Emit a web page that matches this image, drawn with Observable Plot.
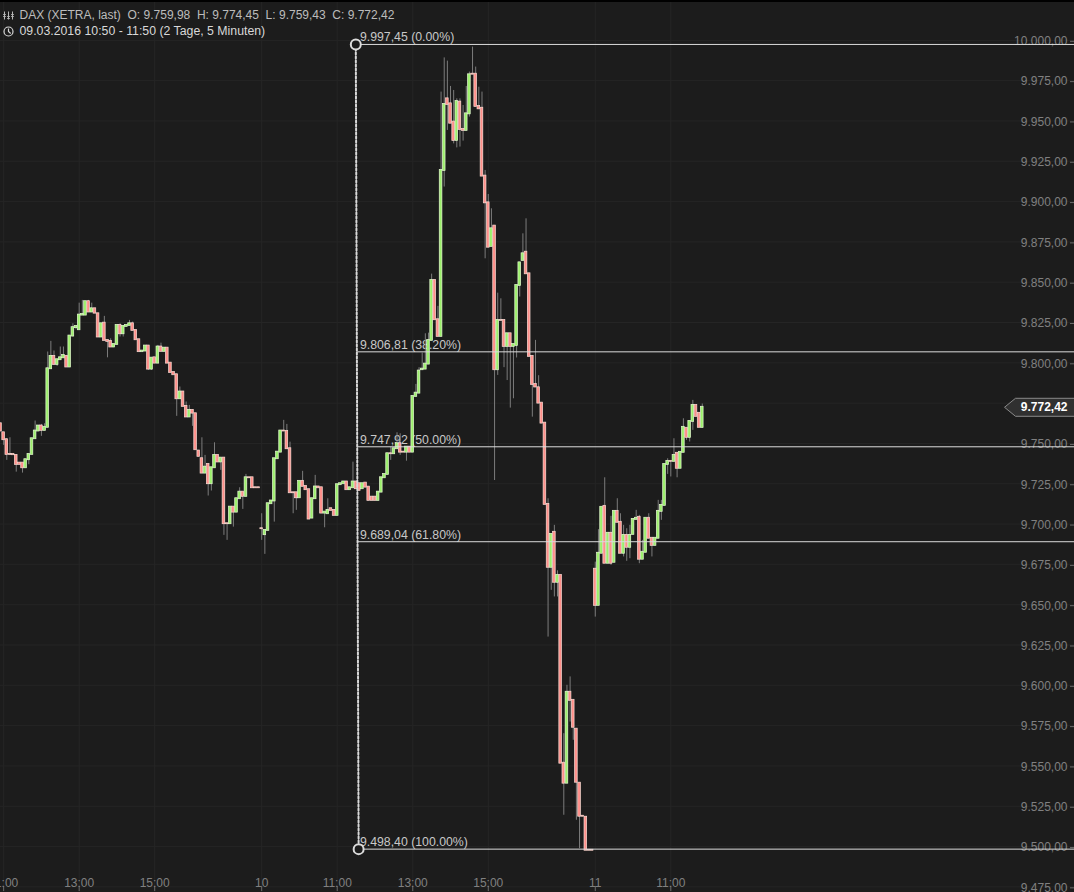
<!DOCTYPE html>
<html><head><meta charset="utf-8">
<script src="https://cdn.jsdelivr.net/npm/d3@7"></script>
<script src="https://cdn.jsdelivr.net/npm/@observablehq/plot@0.6"></script>
<style>html,body{margin:0;padding:0;background:#1c1c1c;overflow:hidden}svg{display:block}</style>
</head><body><div id="c"></div>
<script>
const opens = [
9762.2,9756.6,9752.3,9743.2,9743.2,9742.6,9737.8,9737.8,9734.9,9739.9,9743.2,9752.9,9757.7,9760.8,9758.1,9760.0,9796.3,9804.0,9799.0,9801.9,
9803.1,9804.0,9797.4,9816.6,9821.8,9820.5,9829.6,9829.6,9837.9,9831.5,9833.5,9830.4,9816.0,9824.6,9813.9,9813.3,9809.8,9811.4,9823.2,9818.0,
9822.6,9823.2,9824.2,9820.1,9814.3,9806.9,9807.3,9810.4,9796.1,9803.1,9799.8,9809.8,9807.1,9809.1,9799.8,9794.0,9792.6,9777.7,9781.9,9773.0,
9766.4,9770.5,9768.4,9745.3,9740.5,9731.6,9737.0,9725.0,9734.9,9742.6,9738.5,9740.9,9700.2,9700.2,9710.5,9707.4,9715.7,9719.8,9717.2,9728.7,
9728.7,9722.5,9722.5,9697.1,9693.4,9696.1,9712.6,9714.3,9740.5,9744.6,9757.7,9757.5,9746.7,9719.4,9719.4,9716.3,9726.5,9723.4,9721.3,9703.7,
9715.7,9723.0,9722.5,9706.8,9706.4,9709.5,9708.5,9705.4,9724.4,9725.0,9726.1,9721.3,9722.5,9726.1,
9725.0,9721.9,9725.4,9722.9,9716.7,9716.7,9714.7,9719.8,9728.7,9730.8,9743.6,9743.6,9746.7,9749.8,9744.6,9744.6,9747.7,9744.6,9779.2,9781.2,
9795.7,9796.1,9799.2,9813.9,9851.1,9826.7,9816.4,9919.3,9963.7,9960.6,9949.3,9937.9,9961.7,9944.7,9944.1,9954.4,9979.0,9979.0,9959.0,9957.9,
9915.8,9899.2,9872.2,9884.8,9795.7,9826.3,9826.3,9810.2,9818.0,9810.2,9810.8,9848.0,9863.5,9868.6,9855.2,9804.0,9786.6,9784.5,9775.0,9762.6,
9712.2,9673.2,9694.9,9663.9,9668.2,9551.7,9539.3,9595.7,9590.7,9572.8,9539.3,9518.8,9518.2,9497.7,9497.7,
9672.0,9649.6,9681.9,9711.0,9675.7,9694.3,9676.3,9707.9,9701.1,9681.9,9693.0,9685.6,9693.6,9702.9,9704.2,9678.2,9682.5,9703.6,9691.2,9686.8,
9691.2,9707.9,9711.6,9737.0,9738.9,9738.9,9743.9,9734.6,9744.5,9759.4,9753.8,9763.7,9773.6,9768.7,9759.98
];
const closes = [
9757.7,9752.3,9743.2,9743.2,9743.0,9737.0,9737.0,9734.9,9739.9,9743.2,9752.9,9757.7,9760.8,9758.1,9760.0,9796.3,9804.0,9799.0,9801.9,9803.1,
9804.6,9797.4,9816.6,9821.8,9822.6,9829.6,9830.0,9837.9,9831.5,9833.5,9830.8,9816.0,9824.2,9813.9,9813.3,9809.8,9811.4,9823.2,9818.0,9822.6,
9823.2,9824.2,9820.1,9814.3,9806.9,9807.3,9810.4,9796.1,9802.9,9799.8,9809.8,9807.1,9809.1,9799.8,9794.0,9792.6,9777.7,9781.9,9773.0,9766.4,
9770.5,9768.8,9746.1,9742.0,9731.6,9735.3,9725.0,9734.9,9742.6,9738.5,9740.9,9700.2,9700.2,9710.5,9707.4,9715.7,9719.8,9717.2,9728.7,9728.7,
9722.5,9722.5,9722.5,9697.1,9696.1,9712.6,9714.3,9740.5,9744.6,9757.7,9757.7,9746.7,9719.4,9719.4,9716.3,9726.5,9723.4,9721.3,9703.1,9715.7,
9723.0,9722.5,9706.8,9707.4,9708.5,9708.5,9705.4,9724.4,9725.0,9726.1,9721.3,9722.5,9726.1,9721.9,
9720.9,9725.0,9722.9,9714.7,9714.7,9714.7,9719.8,9728.7,9730.8,9743.6,9743.6,9746.7,9749.8,9744.6,9744.6,9747.7,9744.6,9779.2,9781.2,9794.9,
9796.1,9799.2,9813.9,9851.1,9826.7,9816.4,9919.3,9960.2,9960.2,9948.6,9937.9,9962.1,9944.7,9944.1,9954.4,9978.6,9979.0,9959.0,9957.5,9915.8,
9899.2,9871.7,9883.1,9795.7,9826.3,9826.3,9810.2,9818.0,9810.2,9811.4,9848.0,9862.0,9867.6,9855.2,9804.0,9786.6,9785.0,9775.0,9762.6,9712.2,
9673.2,9693.6,9663.9,9668.2,9551.7,9539.3,9595.7,9590.7,9574.0,9539.9,9518.8,9518.8,9497.7,9497.7,9497.7,
9649.6,9681.9,9710.4,9675.7,9694.3,9675.7,9707.9,9701.1,9681.9,9693.0,9685.6,9693.0,9702.9,9703.6,9678.2,9682.5,9703.6,9691.2,9686.8,9691.2,
9707.9,9711.6,9737.0,9738.9,9738.9,9742.6,9734.6,9744.5,9760.0,9753.8,9763.7,9773.6,9766.8,9760.0,9772.42
];
const wickIdx = [1,2,3,5,7,9,11,13,14,15,16,17,18,19,20,21,23,24,25,26,28,29,33,34,35,38,39,41,42,47,48,50,51,56,57,59,60,61,64,65,66,67,68,70,71,72,74,76,77,78,83,84,87,90,91,92,93,94,96,100,103,104,112,
126,127,129,124,132,133,134,135,136,137,139,140,141,142,143,144,145,146,147,148,149,150,151,152,153,154,155,156,157,158,159,160,161,162,163,164,165,166,167,169,170,171,
174,175,176,177,179,180,181,182,183,184,189,190,192,194,196,197,198,199,200,202,203,204,206,207,209,210,212,213,214,215,217,218,219,220,223];
const wickHi = [null,9752.9,9753.5,9742.6,9737.4,null,9763.9,9761.8,9762.2,9806.7,9813.3,9807.3,null,9809.8,9809.8,9804.6,9824.2,null,9837,9838.7,9838.7,9837,9828.8,null,9814.9,9824.2,null,9826.3,9825.3,null,null,9810.8,9812.2,null,9785,9775.7,9773.6,9770.9,9753.5,9742.6,null,null,9750.4,null,null,null,null,9722.5,null,9730.8,9706.4,null,null,9764.3,9761.8,9750.8,null,null,9732.7,9730.2,null,9715.7,9738.4,
9756.6,9756,9747,9747.7,9786.6,9797,9806,9818,9818.4,9855,9835,9967.9,9989.1,9987.1,9971.4,9968.9,9963.7,9963.7,9959.6,9971.4,9980.3,9995.8,9983.4,9970.9,9967.9,9919.3,9904.4,9895.5,null,9843.2,9839.7,9826,9818,null,9811,null,null,9880,9889.3,null,9813.9,9792,
9715.7,null,9699.2,9671,9570,9600,9605.2,null,null,null,9676.4,9696.5,9728.7,9704.8,9715.7,9706.4,9699.2,9697.1,9699.2,9708.5,9705.4,9689.9,9706.4,null,9714.7,9714.7,9740.5,null,9752.9,null,9765.3,null,null,9776.7,9774.45];
const wickLo = [9748.8,9739.5,9742.6,9732.2,9731.6,9736.8,null,9754.4,null,null,null,9798.4,9797.8,null,null,null,9816,9820.5,null,null,null,null,null,9803.1,null,9816,9816,null,null,9795.3,9795.3,null,null,9766.8,null,null,null,9760.6,null,null,9717.4,9720.5,null,9733.3,9693,9689.9,9698.1,null,9709.1,null,9689.9,9681.2,9701.2,null,null,null,9706.4,9708.5,null,null,9697.7,null,null,
null,9742.6,9739,9739.5,null,null,null,null,null,null,null,null,9909,9944.1,null,9935.8,9933.3,9933.8,9937.5,null,9952.4,null,null,null,null,9864.5,null,null,9727,9792.2,null,9797,9789,9771.9,9777.7,9803,9840.8,null,null,9766.3,null,null,
9629.9,9658.9,9654.8,9654.8,9519.4,null,9577.2,9565.9,9516.3,9498.7,9642.3,null,null,9674.4,null,null,9679.6,9676.9,9678.5,null,9675.4,null,null,9679.6,null,9702.3,9730.8,9729.2,null,9728.7,null,9751.9,9750.9,9758.1,9759.43];

const priceTicks = d3.range(9475, 10001, 25);
const timeTickIdx = [1, 25, 49, 83, 107, 131, 155, 189, 213];
const timeTickLabels = ["11:00", "13:00", "15:00", "10", "11:00", "13:00", "15:00", "11", "11:00"];
const fibValues = [9997.45, 9806.81, 9747.92, 9689.04, 9498.40];
const fibLabels = ["9.997,45 (0.00%)", "9.806,81 (38.20%)", "9.747,92 (50.00%)", "9.689,04 (61.80%)", "9.498,40 (100.00%)"];
const fibAnchorIdx = [112.9, 113.8];
const fibAnchorPrice = [9997.45, 9498.40];
const lastPrice = 9772.42;
const headerLine1 = "DAX (XETRA, last)\u00a0 O: 9.759,98\u00a0 H: 9.774,45\u00a0 L: 9.759,43\u00a0 C: 9.772,42";
const headerLine2 = "09.03.2016 10:50 - 11:50 (2 Tage, 5 Minuten)";

const de = d3.formatLocale({decimal: ",", thousands: ".", grouping: [3], currency: ["", "€"]}).format(",.2f");
const candles = opens.map((o, i) => ({i, o, c: closes[i]}));
const wicks = wickIdx.map((i, k) => {
  const c = candles[i];
  return {i, hi: wickHi[k] ?? Math.max(c.o, c.c), lo: wickLo[k] ?? Math.min(c.o, c.c)};
});
const fibs = fibValues.map((v, k) => ({v, label: fibLabels[k], start: k === 0 ? fibAnchorIdx[0] : fibAnchorIdx[1] - 0.3}));
const anchors = fibAnchorIdx.map((i, k) => ({i, p: fibAnchorPrice[k]}));
const font = "Liberation Sans, Arial, sans-serif";

const tagSymbol = {draw(c) { c.moveTo(0, -9); c.lineTo(-59, -9); c.lineTo(-70, 0); c.lineTo(-59, 9); c.lineTo(0, 9); c.closePath(); }};
const clockSymbol = {draw(c) { c.moveTo(4.5, 0); c.arc(0, 0, 4.5, 0, 2 * Math.PI); c.moveTo(0, -3); c.lineTo(0, 0); c.lineTo(2.2, 2); }};
const barsSymbol = {draw(c) { for (const [x, a, b, t] of [[-4, -4, 4, -1], [0, -4, 4, 1], [4, -4, 4, -1]]) { c.moveTo(x, a); c.lineTo(x, b); c.moveTo(x - 1.3, t); c.lineTo(x + 1.3, t); c.moveTo(x + 1.3, t + 2); c.lineTo(x - 1.3, t + 2); } }};

const chart = Plot.plot({
  width: 1074, height: 892, margin: 0,
  style: {background: "#1c1c1c", fontFamily: font, fontSize: "12px", color: "#c8c8c8"},
  x: {domain: [0, 341.28], range: [0, 1074], axis: null},
  y: {domain: [9471.5, 10024.7], range: [892, 0], axis: null},
  marks: [
    Plot.gridY(priceTicks, {stroke: "#252525", strokeOpacity: 1}),
    Plot.gridX(timeTickIdx, {stroke: "#252525", strokeOpacity: 1}),
    Plot.axisY(priceTicks, {anchor: "right", tickSize: -5, tickPadding: -2, textAnchor: "end", tickFormat: d => d === 9775 ? "" : de(d), stroke: "#6a6a6a", fill: "#808080", fontSize: 12, label: null, dy: 1}),
    Plot.axisX(timeTickIdx, {anchor: "bottom", tickSize: -5, tickPadding: 0, lineAnchor: "bottom", tickFormat: d => timeTickLabels[timeTickIdx.indexOf(d)], stroke: "#6a6a6a", fill: "#808080", fontSize: 12, label: null, dy: -1}),
    Plot.text(fibs, {x: () => 114.2, y: "v", text: "label", textAnchor: "start", dy: -7, fill: "#c8c8c8", fontSize: 12.3}),
    Plot.ruleX(wicks, {x: "i", y1: "lo", y2: "hi", stroke: "#7c7c7c", strokeWidth: 1}),
    Plot.rect(candles, {x1: d => d.i - 0.42, x2: d => d.i + 0.42, y1: "o", y2: "c", insetTop: -0.5, insetBottom: -0.5,
      fill: d => d.c > d.o ? "#9cf06c" : "#ff8f8a", stroke: d => d.c > d.o ? "#e4f8d0" : "#fadcd4", strokeWidth: 0.7}),
    Plot.ruleY(fibs, {y: "v", x1: "start", x2: 341.28, stroke: "#dcdcdc", strokeWidth: 1}),
    Plot.line(anchors, {x: "i", y: "p", stroke: "#d8d8d8", strokeWidth: 2, strokeDasharray: "2,2"}),
    Plot.dot(anchors, {x: "i", y: "p", r: 5, stroke: "#dcdcdc", strokeWidth: 2, fill: "#1c1c1c"}),
    Plot.dot([lastPrice], {y: d => d, frameAnchor: "right", symbol: tagSymbol, r: 5, fill: "#303030", stroke: "#8a8a8a", strokeWidth: 1}),
    Plot.text([lastPrice], {y: d => d, frameAnchor: "right", dx: -7, text: d => de(d), textAnchor: "end", fill: "#fff", fontWeight: "bold", fontSize: 12}),
    Plot.ruleY([10024.7], {stroke: "#000", strokeWidth: 3}),
    Plot.dot([0], {frameAnchor: "top-left", dx: 8, dy: 15, symbol: barsSymbol, r: 5, fill: "none", stroke: "#b8b8b8", strokeWidth: 1}),
    Plot.text([headerLine1], {frameAnchor: "top-left", dx: 19, dy: 15, text: d => d, textAnchor: "start", lineAnchor: "middle", fill: "#bcbcbc", fontSize: 12}),
    Plot.dot([0], {frameAnchor: "top-left", dx: 8, dy: 31, symbol: clockSymbol, r: 5, fill: "none", stroke: "#d8d8d8", strokeWidth: 1.2}),
    Plot.text([headerLine2], {frameAnchor: "top-left", dx: 19, dy: 31, text: d => d, textAnchor: "start", lineAnchor: "middle", fill: "#d8d8d8", fontSize: 12.3})
  ]
});
document.getElementById("c").appendChild(chart);
</script></body></html>
